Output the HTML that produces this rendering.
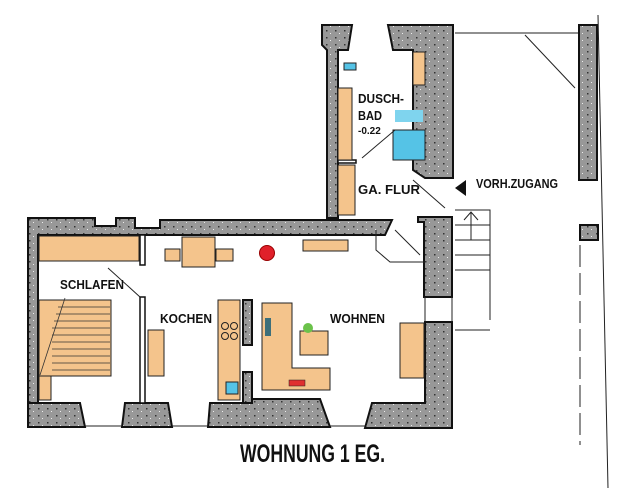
<!DOCTYPE html>
<html><head><meta charset="utf-8"><style>
html,body{margin:0;padding:0;background:#fff;width:629px;height:488px;overflow:hidden}
svg{display:block}
text{font-family:"Liberation Sans Narrow","Liberation Sans",sans-serif;fill:#111;font-weight:bold}
</style></head><body>
<svg width="629" height="488" viewBox="0 0 629 488" xmlns="http://www.w3.org/2000/svg">
<defs>
<pattern id="dots" width="9" height="7" patternUnits="userSpaceOnUse">
<rect width="9" height="7" fill="#989898"/>
<rect x="2" y="2" width="1.5" height="1.5" fill="#333"/>
<rect x="6" y="5" width="1" height="1" fill="#eee"/>
</pattern>
</defs>
<g stroke="#111" stroke-width="2" fill="url(#dots)">
<path d="M28 218 H95 V226 H116 V218 H135 V228 H160 V220 H392 L385 235 H38 V420 H28 Z"/>
<path d="M28 403 H80 L85 427 H28 Z"/>
<path d="M125 403 H168 L172 427 H122 Z"/>
<path d="M210 403 H252 V399 H320 L330 427 H208 Z"/>
<path d="M372 403 H425 V322 H452 V428 H365 Z"/>
<path d="M418 217 H452 V297 H424 V222 H418 Z"/>
<rect x="243" y="300" width="9" height="45"/>
<rect x="243" y="372" width="9" height="31"/>
<path d="M322 25 H352 L348 50 H338 V218 H327 V50 L322 45 Z"/>
<path d="M388 25 H453 V178 H425 L413 170 V50 H393 Z"/>
<rect x="579" y="25" width="18" height="155"/>
<rect x="580" y="225" width="18" height="15"/>
</g>
<g stroke="#111" stroke-width="1.5" fill="#fff">
<rect x="140" y="235" width="5" height="30"/>
<rect x="140" y="297" width="5" height="106"/>
<rect x="338" y="160" width="18" height="3"/>
</g>
<g fill="#f4c48c" stroke="#222" stroke-width="1">
<rect x="39" y="236" width="100" height="25"/>
<rect x="39" y="300" width="72" height="76"/>
<rect x="39" y="376" width="12" height="24"/>
<rect x="182" y="237" width="33" height="30"/>
<rect x="165" y="249" width="15" height="12"/>
<rect x="216" y="249" width="17" height="12"/>
<rect x="148" y="330" width="16" height="46"/>
<rect x="218" y="300" width="22" height="100"/>
<path d="M262 303 H292 V368 H330 V390 H262 Z"/>
<rect x="300" y="331" width="28" height="24"/>
<rect x="400" y="323" width="24" height="55"/>
<rect x="303" y="240" width="45" height="11"/>
<rect x="338" y="88" width="14" height="72"/>
<rect x="413" y="52" width="12" height="33"/>
<rect x="338" y="165" width="17" height="50"/>
</g>
<g stroke="#333" stroke-width="0.8" fill="none">
<path d="M58 307 H110 M56 314 H110 M54 321 H110 M52 328 H110 M52 335 H110 M52 342 H110 M52 349 H110 M52 356 H110 M52 363 H110 M52 370 H110"/>
<path d="M65 298 L40 375"/>
</g>
<rect x="393" y="130" width="32" height="30" fill="#55c3e6" stroke="#222"/>
<rect x="395" y="110" width="28" height="12" fill="#7fd4ee"/>
<rect x="344" y="63" width="12" height="7" fill="#55c3e6" stroke="#222"/>
<rect x="226" y="382" width="12" height="12" fill="#55c3e6" stroke="#222"/>
<rect x="265" y="318" width="6" height="18" fill="#3d6f7a"/>
<rect x="289" y="380" width="16" height="6" fill="#e03030" stroke="#222" stroke-width="0.5"/>
<circle cx="267" cy="253" r="7.5" fill="#e0202a" stroke="#900"/>
<circle cx="308" cy="328" r="5" fill="#6bc24a"/>
<g fill="none" stroke="#222" stroke-width="1">
<circle cx="225" cy="326" r="3.5"/><circle cx="234" cy="326" r="3.5"/>
<circle cx="225" cy="336" r="3.5"/><circle cx="234" cy="336" r="3.5"/>
</g>
<g stroke="#222" stroke-width="1" fill="none">
<path d="M455 33 H578"/>
<path d="M525 35 L575 88"/>
<path d="M108 268 L140 297"/>
<path d="M362 158 L395 130"/>
<path d="M413 180 L445 208"/>
<path d="M395 230 L420 255"/>
<path d="M376 230 V250 L390 262 H425"/>
<path d="M455 210 H490 V320 M455 225 H490 M455 240 H490 M455 255 H490 M455 270 H490 M455 330 H490"/>
<path d="M471 212 V240 M464 220 L471 212 L478 220"/>
<path d="M598 15 L608 488"/>
<path d="M580 245 V445" stroke-dasharray="22 6"/>
<path d="M85 426 H122 M172 426 H208 M330 426 H365"/>
<path d="M425 297 V322 M452 297 V322"/>
</g>
<polygon points="455,188 466,180 466,196" fill="#111"/>
<text x="60" y="289" font-size="13" textLength="64" lengthAdjust="spacingAndGlyphs">SCHLAFEN</text>
<text x="160" y="323" font-size="13" textLength="52" lengthAdjust="spacingAndGlyphs">KOCHEN</text>
<text x="330" y="323" font-size="13" textLength="55" lengthAdjust="spacingAndGlyphs">WOHNEN</text>
<text x="358" y="103" font-size="13" textLength="46" lengthAdjust="spacingAndGlyphs">DUSCH-</text>
<text x="358" y="120" font-size="13" textLength="24" lengthAdjust="spacingAndGlyphs">BAD</text>
<text x="358" y="134" font-size="10" font-weight="normal">-0.22</text>
<text x="358" y="194" font-size="13" textLength="62" lengthAdjust="spacingAndGlyphs">GA. FLUR</text>
<text x="476" y="188" font-size="12.5" textLength="82" lengthAdjust="spacingAndGlyphs">VORH.ZUGANG</text>
<text x="240" y="462" font-size="25" font-weight="normal" textLength="145" lengthAdjust="spacingAndGlyphs">WOHNUNG 1 EG.</text>
</svg>
</body></html>
